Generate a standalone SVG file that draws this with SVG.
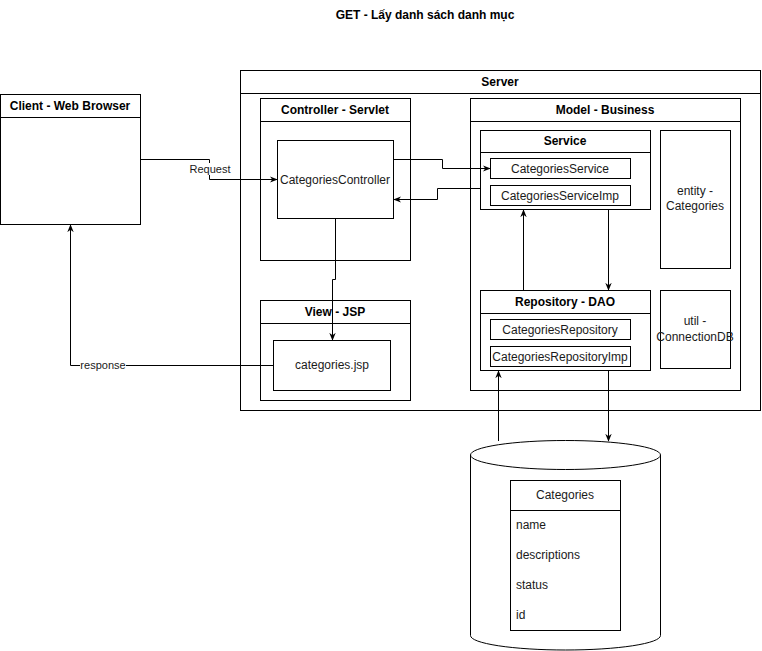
<svg xmlns="http://www.w3.org/2000/svg" width="762" height="651" viewBox="0 0 762 651">
  <style>
    .box { fill: #ffffff; stroke: #000000; stroke-width: 1; }
    .sep { stroke: #000000; stroke-width: 1; fill: none; }
    .hd { font-family: "Liberation Sans", Arial, sans-serif; font-size: 12px; font-weight: bold; fill: #000000; text-anchor: middle; }
    .tx { font-family: "Liberation Sans", Arial, sans-serif; font-size: 12px; fill: #1a1a1a; text-anchor: middle; }
    .tl { font-family: "Liberation Sans", Arial, sans-serif; font-size: 12px; fill: #1a1a1a; text-anchor: start; }
    .lbl { font-family: "Liberation Sans", Arial, sans-serif; font-size: 11px; fill: #1a1a1a; text-anchor: middle; }
    .edge { fill: none; stroke: #000000; stroke-width: 1; }
  </style>
  <defs>
    <marker id="arrow" viewBox="0 0 10 10" refX="9" refY="5" markerWidth="8" markerHeight="8" markerUnits="userSpaceOnUse" orient="auto">
      <path d="M0,1 L10,5 L0,9 L3,5 Z" fill="#000000"/>
    </marker>
  </defs>
  <rect x="0" y="0" width="762" height="651" fill="#ffffff"/>

  <text class="hd" x="425" y="19">GET - Lấy danh sách danh mục</text>

  <!-- Client -->
  <g id="client">
    <rect class="box" x="0.5" y="94.5" width="140" height="130"/>
    <line class="sep" x1="0.5" y1="117.5" x2="140.5" y2="117.5"/>
    <text class="hd" x="70" y="110">Client - Web Browser</text>
  </g>

  <!-- Server container -->
  <g id="server">
    <rect class="box" x="240.5" y="70.5" width="520" height="340"/>
    <line class="sep" x1="240.5" y1="93.5" x2="760.5" y2="93.5"/>
    <text class="hd" x="500" y="86">Server</text>
  </g>

  <g id="controller">
    <rect class="box" x="260.5" y="98.5" width="150" height="162"/>
    <line class="sep" x1="260.5" y1="121.5" x2="410.5" y2="121.5"/>
    <text class="hd" x="335" y="114">Controller - Servlet</text>
  </g>
  <g id="categories-controller">
    <rect class="box" x="277.5" y="140.5" width="116" height="78"/>
    <text class="tx" x="335" y="184">CategoriesController</text>
  </g>

  <g id="view">
    <rect class="box" x="260.5" y="300.5" width="150" height="100"/>
    <line class="sep" x1="260.5" y1="323.5" x2="410.5" y2="323.5"/>
    <text class="hd" x="335" y="316">View - JSP</text>
  </g>
  <g id="categories-jsp">
    <rect class="box" x="273.5" y="340.5" width="117" height="50"/>
    <text class="tx" x="332" y="369">categories.jsp</text>
  </g>

  <g id="model">
    <rect class="box" x="470.5" y="98.5" width="270" height="292"/>
    <line class="sep" x1="470.5" y1="121.5" x2="740.5" y2="121.5"/>
    <text class="hd" x="605" y="114">Model - Business</text>
  </g>

  <g id="service">
    <rect class="box" x="480.5" y="130.5" width="170" height="79"/>
    <line class="sep" x1="480.5" y1="152.5" x2="650.5" y2="152.5"/>
    <text class="hd" x="565" y="145">Service</text>
  </g>
  <g id="categories-service">
    <rect class="box" x="490.5" y="158.5" width="140" height="20"/>
    <text class="tx" x="560" y="173">CategoriesService</text>
  </g>
  <g id="categories-service-imp">
    <rect class="box" x="490.5" y="185.5" width="140" height="20"/>
    <text class="tx" x="560" y="200">CategoriesServiceImp</text>
  </g>

  <g id="entity">
    <rect class="box" x="660.5" y="130.5" width="70" height="138"/>
    <text class="tx" x="695" y="195">entity -</text>
    <text class="tx" x="695" y="210">Categories</text>
  </g>

  <g id="repository">
    <rect class="box" x="480.5" y="290.5" width="170" height="80"/>
    <line class="sep" x1="480.5" y1="313.5" x2="650.5" y2="313.5"/>
    <text class="hd" x="565" y="306">Repository - DAO</text>
  </g>
  <g id="categories-repository">
    <rect class="box" x="490.5" y="319.5" width="140" height="20"/>
    <text class="tx" x="560" y="334">CategoriesRepository</text>
  </g>
  <g id="categories-repository-imp">
    <rect class="box" x="490.5" y="346.5" width="140" height="20"/>
    <text class="tx" x="560" y="361">CategoriesRepositoryImp</text>
  </g>

  <g id="util">
    <rect class="box" x="660.5" y="290.5" width="70" height="78"/>
    <text class="tx" x="695" y="325">util -</text>
    <text class="tx" x="695" y="341">ConnectionDB</text>
  </g>

  <!-- Database cylinder -->
  <g id="database">
    <path class="box" d="M470.5,455 A95,14.5 0 0 1 660.5,455 L660.5,635.5 A95,14.5 0 0 1 470.5,635.5 Z"/>
    <path class="sep" d="M470.5,455 A95,14.5 0 0 0 660.5,455"/>
  </g>
  <g id="categories-table">
    <rect class="box" x="510.5" y="480.5" width="110" height="150"/>
    <line class="sep" x1="510.5" y1="510.5" x2="620.5" y2="510.5"/>
    <text class="tx" x="565" y="499">Categories</text>
    <text class="tl" x="516" y="529">name</text>
    <text class="tl" x="516" y="559">descriptions</text>
    <text class="tl" x="516" y="589">status</text>
    <text class="tl" x="516" y="619">id</text>
  </g>

  <!-- Connectors -->
  <g id="connectors">
    <path class="edge" d="M140.5,159.5 H209.5 V179.5 H277" marker-end="url(#arrow)"/>
    <rect x="188" y="163" width="44" height="12" fill="#ffffff"/>
    <text class="lbl" x="210" y="173">Request</text>

    <path class="edge" d="M393.5,159.5 H442.5 V168.5 H490" marker-end="url(#arrow)"/>
    <path class="edge" d="M480.5,188.5 H437.5 V199.5 H394" marker-end="url(#arrow)"/>
    <path class="edge" d="M335.5,218.5 V279.5 H332.5 V340" marker-end="url(#arrow)"/>

    <path class="edge" d="M273.5,365.5 H70.5 V225" marker-end="url(#arrow)"/>
    <rect x="80" y="359" width="46" height="12" fill="#ffffff"/>
    <text class="lbl" x="103" y="369">response</text>

    <path class="edge" d="M523.5,290.5 V210" marker-end="url(#arrow)"/>
    <path class="edge" d="M608.5,209.5 V290" marker-end="url(#arrow)"/>
    <path class="edge" d="M498.5,441 V371" marker-end="url(#arrow)"/>
    <path class="edge" d="M608.5,370.5 V441" marker-end="url(#arrow)"/>
  </g>
</svg>
